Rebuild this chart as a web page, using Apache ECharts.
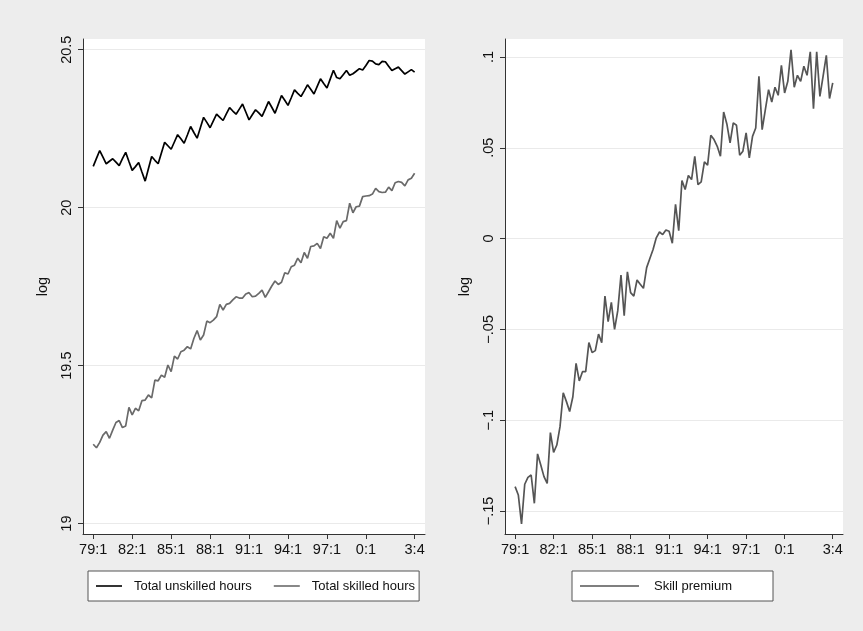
<!DOCTYPE html>
<html lang="en">
<head>
    <meta charset="utf-8">
    <title>hours and skill premium</title>
    <script src="https://cdn.jsdelivr.net/npm/echarts@6/dist/echarts.min.js"></script>
    <style>
        body { margin: 0; background: #ededed; }
    </style>
</head>
<body>
<div id="main" style="width: 863px;height:631px;"></div>
<script type="text/javascript">
    // quarters 79:1 .. 03:4, index 0..99
    var tickIdx = [0, 12, 24, 36, 48, 60, 72, 84, 99];
    var tickLabels = ['79:1', '82:1', '85:1', '88:1', '91:1', '94:1', '97:1', '0:1', '3:4'];

    var leftTicks = [19, 19.5, 20, 20.5];
    var leftTickLabels = ['19', '19.5', '20', '20.5'];
    var rightTicks = [-0.15, -0.1, -0.05, 0, 0.05, 0.1];
    var rightTickLabels = ['\u2212.15', '\u2212.1', '\u2212.05', '0', '.05', '.1'];

    var unskilled = [
        20.131, 20.156, 20.181, 20.160, 20.139, 20.147, 20.155, 20.144, 20.133, 20.155,
        20.175, 20.146, 20.118, 20.130, 20.143, 20.113, 20.084, 20.123, 20.162, 20.150,
        20.139, 20.173, 20.207, 20.196, 20.185, 20.208, 20.231, 20.218, 20.204, 20.230,
        20.257, 20.238, 20.220, 20.253, 20.286, 20.270, 20.253, 20.275, 20.296, 20.286,
        20.276, 20.297, 20.317, 20.306, 20.296, 20.312, 20.328, 20.303, 20.278, 20.294,
        20.310, 20.300, 20.289, 20.312, 20.336, 20.318, 20.299, 20.327, 20.355, 20.340,
        20.324, 20.348, 20.373, 20.362, 20.352, 20.370, 20.389, 20.375, 20.360, 20.384,
        20.408, 20.393, 20.379, 20.407, 20.435, 20.412, 20.408, 20.421, 20.434, 20.419,
        20.424, 20.432, 20.440, 20.436, 20.450, 20.466, 20.464, 20.455, 20.453, 20.463,
        20.462, 20.448, 20.434, 20.440, 20.445, 20.434, 20.423, 20.430, 20.437, 20.429
    ];
    var skilled = [
        19.251, 19.240, 19.257, 19.280, 19.291, 19.270, 19.296, 19.320, 19.326, 19.304,
        19.309, 19.368, 19.344, 19.365, 19.357, 19.389, 19.391, 19.407, 19.398, 19.454,
        19.452, 19.470, 19.463, 19.502, 19.481, 19.530, 19.521, 19.544, 19.549, 19.560,
        19.553, 19.586, 19.611, 19.581, 19.597, 19.641, 19.636, 19.644, 19.655, 19.694,
        19.676, 19.694, 19.697, 19.708, 19.718, 19.714, 19.714, 19.727, 19.731, 19.718,
        19.720, 19.729, 19.739, 19.716, 19.734, 19.752, 19.768, 19.757, 19.764, 19.794,
        19.790, 19.813, 19.818, 19.840, 19.826, 19.858, 19.840, 19.877, 19.879, 19.887,
        19.871, 19.908, 19.903, 19.919, 19.903, 19.959, 19.935, 19.956, 19.959, 20.014,
        19.984, 20.003, 20.005, 20.035, 20.037, 20.038, 20.043, 20.061, 20.051, 20.048,
        20.049, 20.065, 20.054, 20.079, 20.083, 20.080, 20.069, 20.088, 20.093, 20.109
    ];
    var premium = [
        -0.1366, -0.1412, -0.1572, -0.1353, -0.1315, -0.1302, -0.1458, -0.1186, -0.1247, -0.1311,
        -0.1348, -0.1069, -0.1177, -0.1137, -0.1036, -0.0849, -0.0898, -0.0953, -0.0871, -0.0687,
        -0.0784, -0.0733, -0.0733, -0.0573, -0.0628, -0.0617, -0.0526, -0.0573, -0.0317, -0.0458,
        -0.0351, -0.0500, -0.0397, -0.0201, -0.0425, -0.0183, -0.0298, -0.0317, -0.0228, -0.0252,
        -0.0274, -0.0160, -0.0110, -0.0060, 0.0004, 0.0036, 0.0022, 0.0047, 0.0040, -0.0026,
        0.0189, 0.0044, 0.0320, 0.0270, 0.0347, 0.0325, 0.0453, 0.0297, 0.0312, 0.0422,
        0.0404, 0.0569, 0.0545, 0.0508, 0.0453, 0.0697, 0.0631, 0.0527, 0.0637, 0.0624,
        0.0459, 0.0481, 0.0582, 0.0444, 0.0563, 0.0609, 0.0894, 0.0600, 0.0710, 0.0820,
        0.0752, 0.0833, 0.0789, 0.0954, 0.0802, 0.0866, 0.1040, 0.0833, 0.0899, 0.0866,
        0.0949, 0.0899, 0.1028, 0.0715, 0.1028, 0.0783, 0.0894, 0.1009, 0.0771, 0.0857
    ];

    var font = 'Liberation Sans, Arial, Helvetica, sans-serif';
    var axisColor = '#333';

    function pairs(arr) {
        return arr.map(function (v, i) { return [i, v]; });
    }
    function labelFor(vals, labels) {
        return function (v) {
            for (var k = 0; k < vals.length; k++) {
                if (Math.abs(v - vals[k]) < 1e-9) return labels[k];
            }
            return '';
        };
    }

    function xAxis(gridIndex) {
        return {
            type: 'value', gridIndex: gridIndex, min: -3.15, max: 102.2,
            axisLine: { onZero: false, lineStyle: { color: axisColor, width: 1 } },
            axisTick: { customValues: tickIdx, length: 5, lineStyle: { color: axisColor } },
            axisLabel: {
                customValues: tickIdx, margin: 8, color: '#111', fontSize: 14.5, fontFamily: font,
                formatter: labelFor(tickIdx, tickLabels)
            },
            splitLine: { show: false }
        };
    }
    function yAxis(gridIndex, min, max, vals, labels) {
        return {
            type: 'value', gridIndex: gridIndex, min: min, max: max,
            name: 'log', nameLocation: 'middle', nameRotate: 90, nameGap: 33,
            nameTextStyle: { color: '#111', fontSize: 14.5, fontFamily: font },
            axisLine: { show: true, onZero: false, lineStyle: { color: axisColor, width: 1 } },
            axisTick: { show: true, customValues: vals, length: 5, lineStyle: { color: axisColor } },
            axisLabel: {
                customValues: vals, rotate: 90, margin: 9, color: '#111', fontSize: 14.5, fontFamily: font,
                formatter: labelFor(vals, labels)
            },
            splitLine: { show: true, lineStyle: { color: '#eaeaea', width: 1 } }
        };
    }

    var myChart = echarts.init(document.getElementById('main'));
    var option = {
        animation: false,
        backgroundColor: '#ededed',
        grid: [
            { left: 83, top: 39, width: 342, height: 495, show: true, backgroundColor: '#fff', borderWidth: 0, outerBoundsMode: 'none' },
            { left: 505, top: 39, width: 338, height: 495, show: true, backgroundColor: '#fff', borderWidth: 0, outerBoundsMode: 'none' }
        ],
        xAxis: [xAxis(0), xAxis(1)],
        yAxis: [
            yAxis(0, 18.967, 20.534, leftTicks, leftTickLabels),
            yAxis(1, -0.1627, 0.1099, rightTicks, rightTickLabels)
        ],
        legend: [
            {
                data: ['Total unskilled hours', 'Total skilled hours'],
                left: 88, top: 571, padding: [8, 4, 8, 8], itemGap: 22,
                icon: 'rect', itemWidth: 26, itemHeight: 1.6,
                backgroundColor: '#fff', borderColor: '#555', borderWidth: 1, borderRadius: 0,
                textStyle: { color: '#111', fontSize: 13, fontFamily: font, lineHeight: 14, padding: [0, 0, 0, 7] }
            },
            {
                data: ['Skill premium'],
                left: 572, top: 571, padding: [8, 41, 8, 8],
                icon: 'rect', itemWidth: 59, itemHeight: 1.6,
                backgroundColor: '#fff', borderColor: '#555', borderWidth: 1, borderRadius: 0,
                textStyle: { color: '#111', fontSize: 13, fontFamily: font, lineHeight: 14, padding: [0, 0, 0, 10] }
            }
        ],
        series: [
            {
                name: 'Total unskilled hours', type: 'line', xAxisIndex: 0, yAxisIndex: 0,
                symbol: 'none', data: pairs(unskilled),
                lineStyle: { color: '#000', width: 1.7 }, itemStyle: { color: '#000' }
            },
            {
                name: 'Total skilled hours', type: 'line', xAxisIndex: 0, yAxisIndex: 0,
                symbol: 'none', data: pairs(skilled),
                lineStyle: { color: '#6a6a6a', width: 1.7 }, itemStyle: { color: '#6a6a6a' }
            },
            {
                name: 'Skill premium', type: 'line', xAxisIndex: 1, yAxisIndex: 1,
                symbol: 'none', data: pairs(premium),
                lineStyle: { color: '#555', width: 1.7 }, itemStyle: { color: '#555' }
            }
        ]
    };

    myChart.setOption(option);
</script>
</body>
</html>
